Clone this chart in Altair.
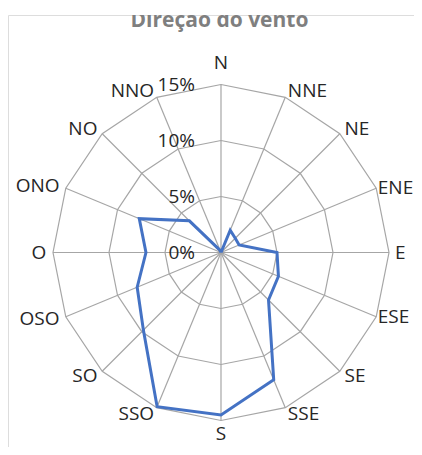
import altair as alt
import pandas as pd

# ---- data ----
directions = ["N", "NNE", "NE", "ENE", "E", "ESE", "SE", "SSE",
              "S", "SSO", "SO", "OSO", "O", "ONO", "NO", "NNO"]
values = [0.0, 2.15, 1.8, 1.75, 5.0, 5.55, 6.0, 12.3,
          14.5, 14.9, 9.8, 8.1, 6.7, 7.9, 4.0, 0.2]
levels = [0, 5, 10, 15]
level_labels = ["0%", "5%", "10%", "15%"]
title_text = "Direção do vento"

n = len(directions)
rmax = max(levels)

poly = pd.DataFrame({
    "idx": list(range(n + 1)),
    "dir": directions + [directions[0]],
    "v": values + [values[0]],
})
rings = pd.DataFrame([
    {"ring": lv, "idx": i, "v": lv}
    for lv in levels if lv > 0 for i in range(n + 1)
])
spokes = pd.DataFrame({"idx": list(range(n)), "v": [rmax] * n})
labels = pd.DataFrame({"idx": list(range(n)), "dir": directions})
ticks = pd.DataFrame({"v": levels, "label": level_labels})
title_df = pd.DataFrame({"t": [title_text]})

# ---- layout ----
PT = 7
W, H = 406, 439 - PT
cx, cy = 221 - 8, 252.5 - 8 - PT
ppu = 168 / 15.0
xs = alt.Scale(domain=[-cx / ppu, (W - cx) / ppu], nice=False, zero=False)
ys = alt.Scale(domain=[-(H - cy) / ppu, cy / ppu], nice=False, zero=False)

PI = "PI"
def polar(ch):
    return ch.transform_calculate(
        ang=f"datum.idx * {PI} / {n // 2}"
    ).transform_calculate(
        x="datum.v * sin(datum.ang)",
        y="datum.v * cos(datum.ang)",
    )

X = alt.X("x:Q", scale=xs, axis=None)
Y = alt.Y("y:Q", scale=ys, axis=None)

grid_color = "#a6a6a6"
font = "Open Sans"
text_color = "#262626"

ring_layer = polar(alt.Chart(rings)).mark_line(
    color=grid_color, strokeWidth=1.2
).encode(x=X, y=Y, detail="ring:N", order="idx:Q")

spoke_layer = polar(alt.Chart(spokes)).transform_calculate(
    x0="0", y0="0"
).mark_rule(color=grid_color, strokeWidth=1.2).encode(
    x=alt.X("x0:Q", scale=xs, axis=None),
    y=alt.Y("y0:Q", scale=ys, axis=None),
    x2="x:Q", y2="y:Q",
)

data_layer = polar(alt.Chart(poly)).mark_line(
    color="#4472C4", strokeWidth=3, strokeJoin="miter"
).encode(x=X, y=Y, order="idx:Q")

def label_layer(cond, align):
    return alt.Chart(labels).transform_filter(cond).transform_calculate(
        ang=f"datum.idx * {PI} / {n // 2}"
    ).transform_calculate(
        rr=(f"datum.idx == 0 ? {rmax} * 1.127 : "
            f"(datum.idx == 8 ? {rmax} * 1.08 : "
            f"((datum.idx == 3 || datum.idx == 5) ? {rmax} * 1.01 : "
            f"(datum.idx == 4 ? {rmax} * 1.035 : {rmax} * 1.04)))")
    ).transform_calculate(
        x="datum.rr * sin(datum.ang)",
        y="datum.rr * cos(datum.ang)",
    ).mark_text(
        align=align, baseline="middle", font=font, fontSize=19,
        color=text_color
    ).encode(x=X, y=Y, text="dir:N")

lab_right = label_layer("datum.idx > 0 && datum.idx < 8", "left")
lab_left = label_layer("datum.idx > 8", "right")
lab_mid = label_layer("datum.idx == 0 || datum.idx == 8", "center")

tick_layer = alt.Chart(ticks).transform_calculate(x="0", y="datum.v").mark_text(
    align="right", baseline="middle", dx=-26, font=font, fontSize=19,
    color=text_color
).encode(x=X, y=Y, text="label:N")

title_layer = alt.Chart(title_df).mark_text(
    align="center", baseline="alphabetic", font=font, fontSize=21,
    fontWeight="bold", color="#7f7f7f", clip=True
).encode(x=alt.value(211.5), y=alt.value(26.5 - 8 - PT), text="t:N")

chart = alt.layer(
    ring_layer, spoke_layer, data_layer, tick_layer,
    lab_right, lab_left, lab_mid, title_layer
).properties(
    width=W, height=H,
    autosize=alt.AutoSizeParams(type="none"),
    padding={"top": PT, "bottom": 0, "left": 0, "right": 0},
).configure_view(stroke=None).configure(background="white")

chart.save("out.html", embed_options={"renderer": "svg", "actions": False})
